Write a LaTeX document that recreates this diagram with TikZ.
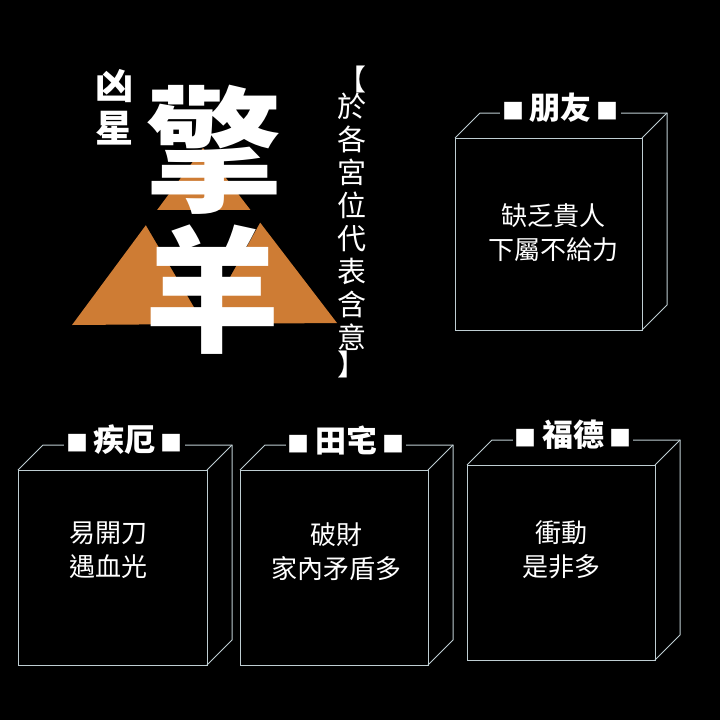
\documentclass[tikz,border=0pt]{standalone}
\usepackage{fontspec}
\newfontfamily\cjk{Noto Sans CJK TC}
\usetikzlibrary{positioning}
\definecolor{edgegray}{RGB}{190,205,210}
\definecolor{tri}{RGB}{206,124,52}
\newcommand{\sq}{{\cjk\fontsize{22}{22}\selectfont ■}}
\tikzset{
  box/.style={draw=edgegray, line width=1pt},
  body/.style={text=white, font=\cjk\fontsize{26}{34}\selectfont, align=center},
  head/.style={text=white, fill=black, inner sep=2pt, font=\cjk\bfseries\fontsize{31}{32}\selectfont},
  title/.style={text=white, font=\cjk\bfseries\fontsize{#1}{#1}\selectfont}
}
% draw a box with its back edges
\newcommand{\palacebox}[5]{% name, x0, y0, x1, y1
  \draw[box] (#2,#3) rectangle (#4,#5);
  \draw[box] (#2,#3) -- ++(25,-25) -- (#4+25,#3-25) -- (#4+25,#5-25) -- (#4,#5);
  \draw[box] (#4,#3) -- ++(25,-25);
  \coordinate (#1) at ({(#2+#4)/2+12},#3-30);
}
\begin{document}
\begin{tikzpicture}[x=1pt,y=-1pt]
\fill[black] (0,0) rectangle (720,720);

% Draw the triangles
\fill[tri] (72,325) -- (203,148) -- (337,323) -- cycle;
\fill[black] (137,210) -- (267,210) -- (204,324) -- cycle;

% Draw the title
\node[title=136] (qing) at (214,150) {擎};
\node[title=136] (yang) at (212,290) {羊};
\node[title=38] (xiong) at (114,86) {凶};
\node[title=38] (xing) at (114,128) {星};
\node[text=white, font=\cjk\fontsize{29}{33}\selectfont, align=center] (sub) at (352,222)
  {【\\[-6pt]於\\各\\宮\\位\\代\\表\\含\\意\\[-6pt]】};

% Draw the boxes
\palacebox{py}{455}{138}{642}{330}
\palacebox{je}{18}{470}{207}{665}
\palacebox{tz}{240}{470}{428}{665}
\palacebox{fd}{467}{465}{655}{660}

\node[head] (pyh) at (py) {\sq\,朋友\,\sq};
\node[head] (jeh) at (je) {\sq\,疾厄\,\sq};
\node[head] (tzh) at (tz) {\sq\,田宅\,\sq};
\node[head] (fdh) at (fd) {\sq\,福德\,\sq};

\node[body] (pyt) at (553,233) {缺乏貴人\\下屬不給力};
\node[body] (jet) at (108,550) {易開刀\\遇血光};
\node[body] (tzt) at (336,552) {破財\\家內矛盾多};
\node[body] (fdt) at (561,550) {衝動\\是非多};
\end{tikzpicture}
\end{document}
